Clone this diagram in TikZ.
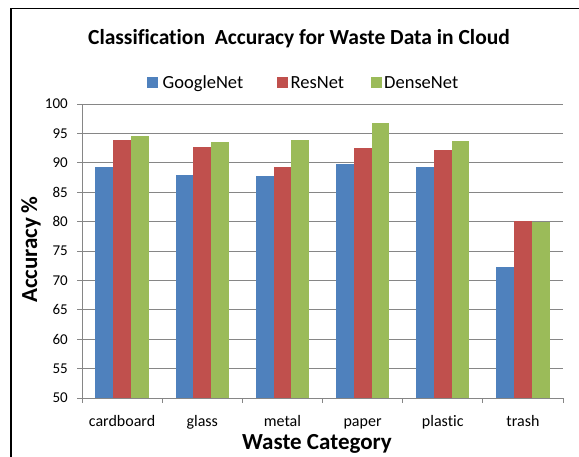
\documentclass[tikz,border=0pt]{standalone}
\usepackage{fontspec}
\setmainfont{Carlito}[Ligatures=NoCommon]
\definecolor{gnet}{HTML}{4F81BD}
\definecolor{rnet}{HTML}{C0504D}
\definecolor{dnet}{HTML}{9BBB59}
\definecolor{gridc}{HTML}{868686}
\begin{document}
\begin{tikzpicture}[x=1pt,y=-1pt,
  gridline/.style={draw=gridc,line width=1pt},
  ticklab/.style={font=\fontsize{15}{15}\selectfont,anchor=east,inner sep=0pt},
  catlab/.style={font=\fontsize{16}{16}\selectfont,anchor=base,inner sep=0pt},
  axlab/.style={font=\fontsize{23}{23}\selectfont\bfseries,inner sep=0pt},
  legsq/.style={minimum size=11pt,inner sep=0pt,draw=none},
  leglab/.style={font=\fontsize{18.5}{18.5}\selectfont,anchor=base west,inner sep=0pt}]
\useasboundingbox (0,0) rectangle (579,456);
\fill[white] (0,0) rectangle (579,456);
% outer frame (runs off the right and bottom edges)
\draw[line width=1.3pt] (11,460) -- (11,8.5) -- (585,8.5);

% plot geometry
\def\xl{82}\def\xr{563}\def\yb{398}\def\ppu{5.88}\def\cw{80.17}
% horizontal grid lines and y tick labels
\foreach \v [count=\k] in {50,55,...,100}{
  \pgfmathsetmacro\yy{\yb-(\v-50)*\ppu}
  \draw[gridline] (\xl-5,\yy) -- (\xr,\yy);
  \node[ticklab] (ytick\k) at (68,\yy) {\v};
}
% axes
\draw[gridline] (\xl,104.0) -- (\xl,\yb) -- (\xr,\yb);
\foreach \i in {0,...,6}{
  \draw[gridline] (\xl+\i*\cw,\yb) -- (\xl+\i*\cw,\yb+5);
}
% bars: GoogleNet / ResNet / DenseNet per category
\foreach \g/\r/\d [count=\i from 0] in
  {89.3/93.9/94.6, 88.0/92.7/93.5, 87.7/89.3/93.9,
   89.8/92.6/96.7, 89.3/92.1/93.7, 72.3/80.1/80.0}{
  \pgfmathsetmacro\x{\xl+\i*\cw+13.4}
  \fill[gnet] (\x,\yb) rectangle (\x+17.8,{\yb-(\g-50)*\ppu});
  \fill[rnet] (\x+17.8,\yb) rectangle (\x+35.6,{\yb-(\r-50)*\ppu});
  \fill[dnet] (\x+35.6,\yb) rectangle (\x+53.4,{\yb-(\d-50)*\ppu});
}
% category labels
\foreach \c [count=\i from 0] in {cardboard,glass,metal,paper,plastic,trash}{
  \node[catlab] (cat\i) at (\xl+\i*\cw+\cw/2,426.5) {\c};
}
% titles
\node[font=\fontsize{21.5}{21.5}\selectfont\bfseries,inner sep=0pt,anchor=base] (title) at (299,44) {Classification\ \ Accuracy for Waste Data in Cloud};
\node[axlab,anchor=base] (xlabel) at (317,449) {Waste Category};
\node[axlab,rotate=90,anchor=base] (ylabel) at (37,250) {Accuracy\,\%};
% legend
\node[legsq,fill=gnet] (lg1) at (152,82.2) {};
\node[leglab] (lt1) at (162.5,88) {GoogleNet};
\node[legsq,fill=rnet] (lg2) at (282,82.2) {};
\node[leglab] (lt2) at (290.5,88) {ResNet};
\node[legsq,fill=dnet] (lg3) at (376,82.2) {};
\node[leglab] (lt3) at (384,88) {DenseNet};
\end{tikzpicture}
\end{document}
